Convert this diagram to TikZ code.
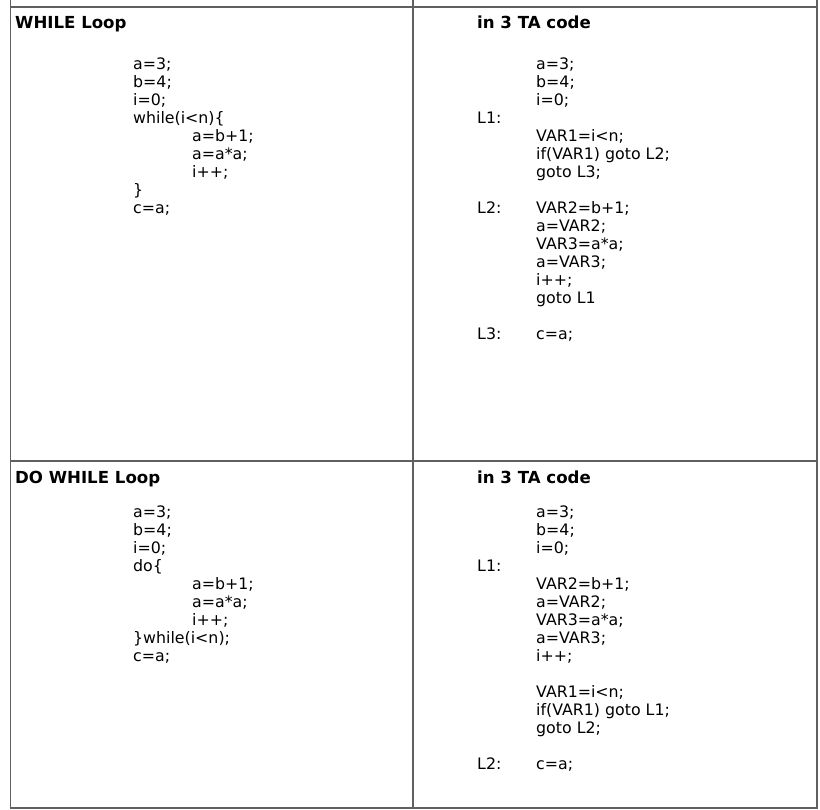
\documentclass[tikz,border=0pt]{standalone}
\usepackage{fontspec}
\setmainfont{DejaVu Sans}
\definecolor{rulegray}{RGB}{96,96,96}
\begin{document}
\begin{tikzpicture}[x=1pt,y=-1pt,
  code/.style={anchor=base west,inner sep=0pt,font=\fontsize{15.8}{18}\selectfont},
  head/.style={anchor=base west,inner sep=0pt,font=\fontsize{16.6}{19}\selectfont\bfseries},
  rule/.style={draw=rulegray,line width=1.6pt}]
\useasboundingbox (0,0) rectangle (820,810);
% table rules
\draw[rule] (10.5,0) -- (10.5,808) -- (817,808) -- (817,0);
\draw[rule] (413,0) -- (413,808);
\draw[rule] (10.5,7) -- (817,7);
\draw[rule] (10.5,461) -- (817,461);
% headers
\node[head] (h1) at (15,29) {WHILE Loop};
\node[head] (h2) at (477,29) {in 3 TA code};
\node[head] (h3) at (15,483) {DO WHILE Loop};
\node[head] (h4) at (477,483) {in 3 TA code};
% top left
\foreach \yy/\xx/\tt [count=\i] in {
  70/133/a=3;, 88/133/b=4;, 106/133/i=0;, 124/133/while(i<n)\{,
  142/192/a=b+1;, 160/192/a=a*a;, 178/192/i++;, 196/133/\},
  214/133/c=a;}
  {\node[code] (tl\i) at (\xx,\yy) {\tt};}
% top right
\foreach \yy/\xx/\tt [count=\i] in {
  70/536/a=3;, 88/536/b=4;, 106/536/i=0;, 124/477/L1:,
  142/536/VAR1=i<n;, 160/536/if(VAR1) goto L2;, 178/536/goto L3;,
  214/477/L2:, 214/536/VAR2=b+1;, 232/536/a=VAR2;, 250/536/VAR3=a*a;,
  268/536/a=VAR3;, 286/536/i++;, 304/536/goto L1,
  340/477/L3:, 340/536/c=a;}
  {\node[code] (tr\i) at (\xx,\yy) {\tt};}
% bottom left
\foreach \yy/\xx/\tt [count=\i] in {
  517/133/a=3;, 535/133/b=4;, 553/133/i=0;, 571/133/do\{,
  589/192/a=b+1;, 607/192/a=a*a;, 625/192/i++;, 643/133/\}while(i<n);,
  661/133/c=a;}
  {\node[code] (bl\i) at (\xx,\yy) {\tt};}
% bottom right
\foreach \yy/\xx/\tt [count=\i] in {
  517/536/a=3;, 535/536/b=4;, 553/536/i=0;, 571/477/L1:,
  589/536/VAR2=b+1;, 607/536/a=VAR2;, 625/536/VAR3=a*a;,
  643/536/a=VAR3;, 661/536/i++;,
  697/536/VAR1=i<n;, 715/536/if(VAR1) goto L1;, 733/536/goto L2;,
  769/477/L2:, 769/536/c=a;}
  {\node[code] (br\i) at (\xx,\yy) {\tt};}
\end{tikzpicture}
\end{document}
